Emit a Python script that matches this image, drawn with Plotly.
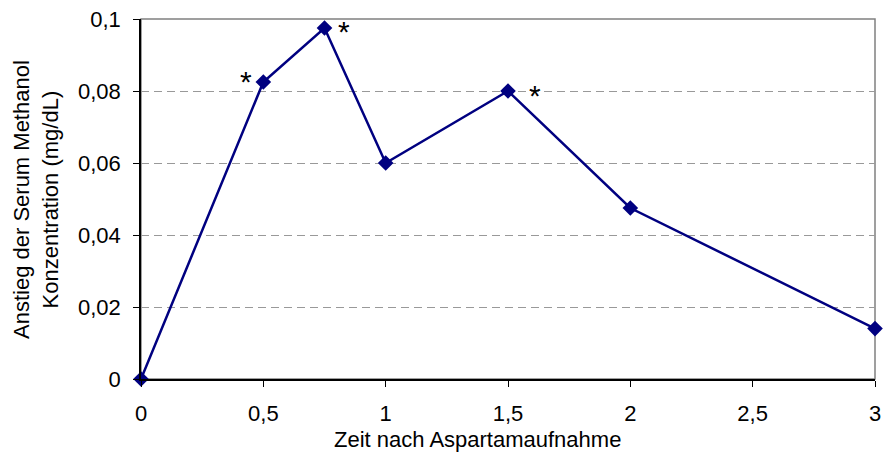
import plotly.graph_objects as go

zeit = [0, 0.5, 0.75, 1, 1.5, 2, 3]
methanol = [0, 0.0825, 0.0975, 0.06, 0.08, 0.0475, 0.014]
sig_x = [0.5, 0.75, 1.5]
sig_y = [0.0825, 0.0975, 0.08]
sig_dx = [-17, 19, 27]
sig_dy = [8, 4, 3]
xticks = [0, 0.5, 1, 1.5, 2, 2.5, 3]
xticklabels = ["0", "0,5", "1", "1,5", "2", "2,5", "3"]
yticks = [0, 0.02, 0.04, 0.06, 0.08, 0.1]
yticklabels = ["0", "0,02", "0,04", "0,06", "0,08", "0,1"]
x_title = "Zeit nach Aspartamaufnahme"
y_title = "Anstieg der Serum Methanol<br>Konzentration (mg/dL)"

font = "Liberation Sans, Arial, sans-serif"
FS = 22
fig = go.Figure()
fig.add_trace(go.Scatter(
    x=zeit, y=methanol, mode="lines+markers",
    line=dict(color="#000080", width=2.5),
    marker=dict(symbol="diamond", size=12, color="#000080"),
    cliponaxis=False, showlegend=False,
))
for x, y, dx, dy in zip(sig_x, sig_y, sig_dx, sig_dy):
    fig.add_annotation(x=x, y=y, text="*", showarrow=False, xshift=dx, yshift=dy - 7,
                       font=dict(family=font, size=30, color="black"))

fig.add_annotation(xref="paper", yref="paper", x=(477 - 141) / 734, y=-(439 - 379) / 360,
                   text=x_title, showarrow=False, xanchor="center", yanchor="middle",
                   font=dict(family=font, size=FS, color="black"))
fig.add_annotation(xref="paper", yref="paper", x=(36 - 141) / 734, y=(379 - 200) / 360,
                   text=y_title, showarrow=False, textangle=-90, xanchor="center", yanchor="middle",
                   font=dict(family=font, size=FS, color="black"))

fig.update_layout(
    width=883, height=461,
    margin=dict(l=141, r=8, t=19, b=82, autoexpand=False),
    paper_bgcolor="white", plot_bgcolor="white",
    font=dict(family=font, size=FS, color="black"),
    shapes=[dict(type="rect", xref="paper", yref="paper", x0=0, x1=1, y0=0, y1=1,
                 line=dict(color="#808080", width=1.5), layer="between")],
)
fig.update_xaxes(
    range=[0, 3], tickvals=xticks, ticktext=xticklabels,
    showline=True, linecolor="black", linewidth=1.5,
    ticks="outside", ticklen=6, tickcolor="black", showgrid=False, zeroline=False,
    ticklabelstandoff=8, ticklabeloverflow="allow", automargin=False,
    tickfont=dict(size=FS),
)
fig.update_yaxes(
    range=[0, 0.1], tickvals=yticks, ticktext=yticklabels,
    showline=True, linecolor="black", linewidth=1.5,
    ticks="outside", ticklen=6, tickcolor="black",
    showgrid=True, gridcolor="#999999", griddash="8px,5px", gridwidth=1, zeroline=False,
    ticklabelstandoff=8, ticklabeloverflow="allow", automargin=False,
    tickfont=dict(size=FS),
)
fig.write_html("out.html", config={"displayModeBar": False},
               post_script="document.body.style.margin='0';document.body.style.overflow='hidden';")
